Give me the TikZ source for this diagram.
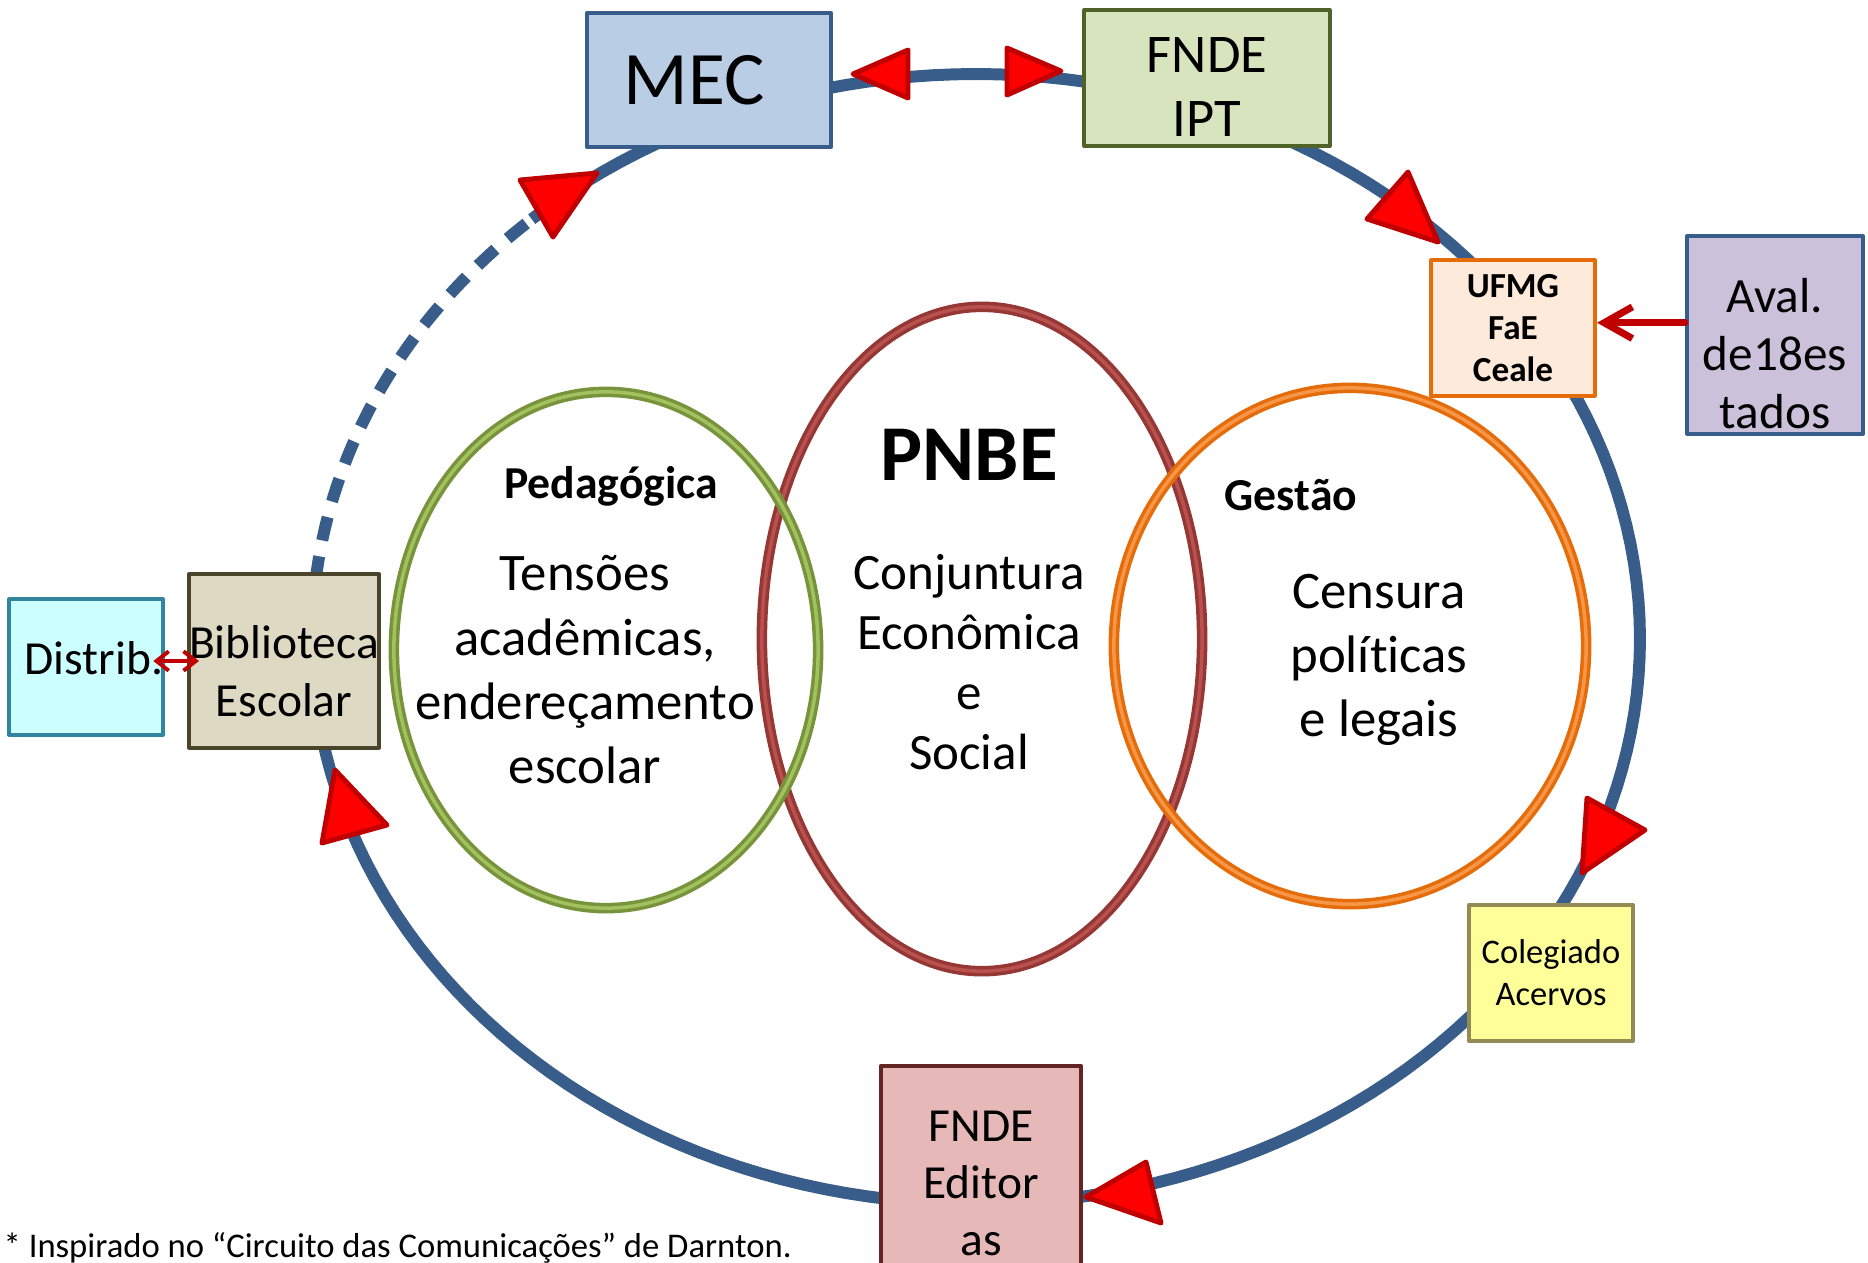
\documentclass[tikz,border=0pt]{standalone}
\usepackage{fontspec}
\setmainfont{Carlito}[Ligatures=NoCommon]
\usetikzlibrary{arrows.meta}
\definecolor{circblue}{HTML}{385D8A}
\definecolor{mecfill}{HTML}{B9CDE5}
\definecolor{fndefill}{HTML}{D7E4BD}
\definecolor{fndeline}{HTML}{4F6228}
\definecolor{ufmgfill}{HTML}{FDEADA}
\definecolor{ufmgline}{HTML}{E46C0A}
\definecolor{avalfill}{HTML}{CCC1DA}
\definecolor{colfill}{HTML}{FFFF99}
\definecolor{colline}{HTML}{948A54}
\definecolor{edfill}{HTML}{E6B9B8}
\definecolor{edline}{HTML}{632523}
\definecolor{bibfill}{HTML}{DDD9C3}
\definecolor{bibline}{HTML}{4A452A}
\definecolor{distfill}{HTML}{CCFFFF}
\definecolor{distline}{HTML}{31859C}
\definecolor{trired}{HTML}{FF0000}
\definecolor{triedge}{HTML}{C00000}
\definecolor{greendark}{HTML}{77933C}
\definecolor{greenlight}{HTML}{A3C15E}
\definecolor{reddark}{HTML}{953735}
\definecolor{redlight}{HTML}{B9524F}
\definecolor{orangedark}{HTML}{E46C0A}
\definecolor{orangelight}{HTML}{F79646}
\newcommand{\setfs}[2]{\fontsize{#1}{#2}\selectfont}
\newcommand{\lift}[1]{\rule{0pt}{#1}}
\newcommand{\drop}[1]{\rule[-#1]{0pt}{0pt}}
\tikzset{
  box/.style={draw, line width=1.15pt, inner sep=0pt, align=center},
  circuit/.style={draw=circblue, line width=3.4pt},
  tri/.style={fill=trired, draw=triedge, line width=1.4pt, line join=round},
  ring/.style 2 args={draw=#1, line width=3pt, postaction={draw=#2, line width=1pt}},
  redline/.style={draw=triedge, line width=2pt, line cap=round, -{Straight Barb[length=8pt, width=9pt]}},
  dblline/.style={draw=triedge, line width=1.1pt, {Straight Barb[length=3.5pt, width=5.5pt]}-{Straight Barb[length=3.5pt, width=5.5pt]}}
}
\begin{document}
\begin{tikzpicture}[x=0.01cm, y=-0.01cm, line join=round]
\def\cx{976}
\def\cy{639}
\def\rx{664}
\def\ry{565}
\useasboundingbox (0,0) rectangle (1868,1263);
\clip (0,0) rectangle (1868,1263);
% circuito
\draw[circuit, dash pattern=on 6.8pt off 4.6pt] plot[variable=\t, domain=186:228, samples=40] ({\cx+\rx*cos(\t)}, {\cy+\ry*sin(\t)});
\draw[circuit] plot[variable=\t, domain=228:532, samples=160] ({\cx+\rx*cos(\t)}, {\cy+\ry*sin(\t)});
% caixas
\node[box, fill=mecfill, draw=circblue, minimum width=2.44cm, minimum height=1.34cm, font=\setfs{21.5pt}{26pt}] (mec) at (709,80) {MEC\hspace*{0.3cm}};
\node[box, fill=fndefill, draw=fndeline, minimum width=2.45cm, minimum height=1.36cm, font=\setfs{15.5pt}{18pt}] (fndeipt) at (1207,78) {\lift{0.53cm}FNDE\\IPT};
\node[box, fill=ufmgfill, draw=ufmgline, minimum width=1.64cm, minimum height=1.35cm, font=\setfs{10pt}{12pt}\bfseries] (ufmg) at (1513,328) {UFMG\\FaE\\Ceale};
\node[box, fill=avalfill, draw=circblue, minimum width=1.76cm, minimum height=1.97cm, font=\setfs{14pt}{16.5pt}] (aval) at (1775,335) {\lift{0.71cm}Aval.\\de18es\\tados};
\node[box, fill=colfill, draw=colline, minimum width=1.64cm, minimum height=1.36cm, font=\setfs{9.8pt}{11.9pt}] (coleg) at (1551,973) {Colegiado\\Acervos};
\node[box, fill=edfill, draw=edline, minimum width=2.0cm, minimum height=2.34cm, font=\setfs{13.5pt}{16.2pt}] (editoras) at (981,1183) {FNDE\\Editor\\as};
\node[box, fill=bibfill, draw=bibline, minimum width=1.88cm, minimum height=1.73cm, font=\setfs{13.5pt}{16.5pt}] (biblio) at (284,661) {\lift{0.53cm}Biblioteca\\Escolar};
\node[box, fill=distfill, draw=distline, minimum width=1.52cm, minimum height=1.35cm, font=\setfs{13.5pt}{16.5pt}] (distrib) at (86,667) {\hspace*{0.16cm}Distrib.\drop{0.18cm}};
% setas
\draw[tri] (853,74) -- (908,50) -- (908,98) -- cycle;
\draw[tri] (1007,48) -- (1061,71) -- (1007,95) -- cycle;
\draw[tri] (520,180) -- (597,173) -- (553,237) -- cycle;
\draw[tri] (1408,172) -- (1367,219) -- (1438,242) -- cycle;
\draw[tri] (1587,798) -- (1645,830) -- (1582,873) -- cycle;
\draw[tri] (1086,1197) -- (1146,1162) -- (1161,1223) -- cycle;
\draw[tri] (335,770) -- (387,825) -- (322,843) -- cycle;
\draw[redline] ([yshift=1.5pt]aval.west |- ufmg.east) -- ([yshift=1.5pt]ufmg.east);
\draw[dblline] ([xshift=-3.4pt]distrib.east |- biblio.west) -- ([xshift=3.4pt]biblio.west);
% elipses
\draw[ring={reddark}{redlight}] (982,639) ellipse (2.20cm and 3.32cm);
\draw[ring={greendark}{greenlight}] (606,650) ellipse (2.12cm and 2.58cm);
\draw[ring={orangedark}{orangelight}] (1350,646) ellipse (2.36cm and 2.58cm);
% textos
\node[anchor=base, font=\setfs{13pt}{16pt}\bfseries] (ped) at (611,498) {Pedagógica};
\node[align=center, inner sep=0pt, font=\setfs{15pt}{18.3pt}] (tens) at (585,670) {Tensões\\acadêmicas,\\endereçamento\\escolar};
\node[anchor=base, font=\setfs{22.5pt}{27pt}\bfseries] (pnbe) at (969,480) {PNBE};
\node[align=center, inner sep=0pt, font=\setfs{14.5pt}{17pt}] (conj) at (969,662) {Conjuntura\\Econômica\\e\\Social};
\node[anchor=base, font=\setfs{13pt}{16pt}\bfseries] (gest) at (1291,510) {Gestão};
\node[align=center, inner sep=0pt, font=\setfs{15pt}{18.3pt}] (cens) at (1379,660) {Censura\\políticas\\e legais};
\node[anchor=base west, inner sep=0pt, font=\setfs{9.85pt}{12pt}] (nota) at (3,1257) {* Inspirado no “Circuito das Comunicações” de Darnton.};
\end{tikzpicture}
\end{document}
